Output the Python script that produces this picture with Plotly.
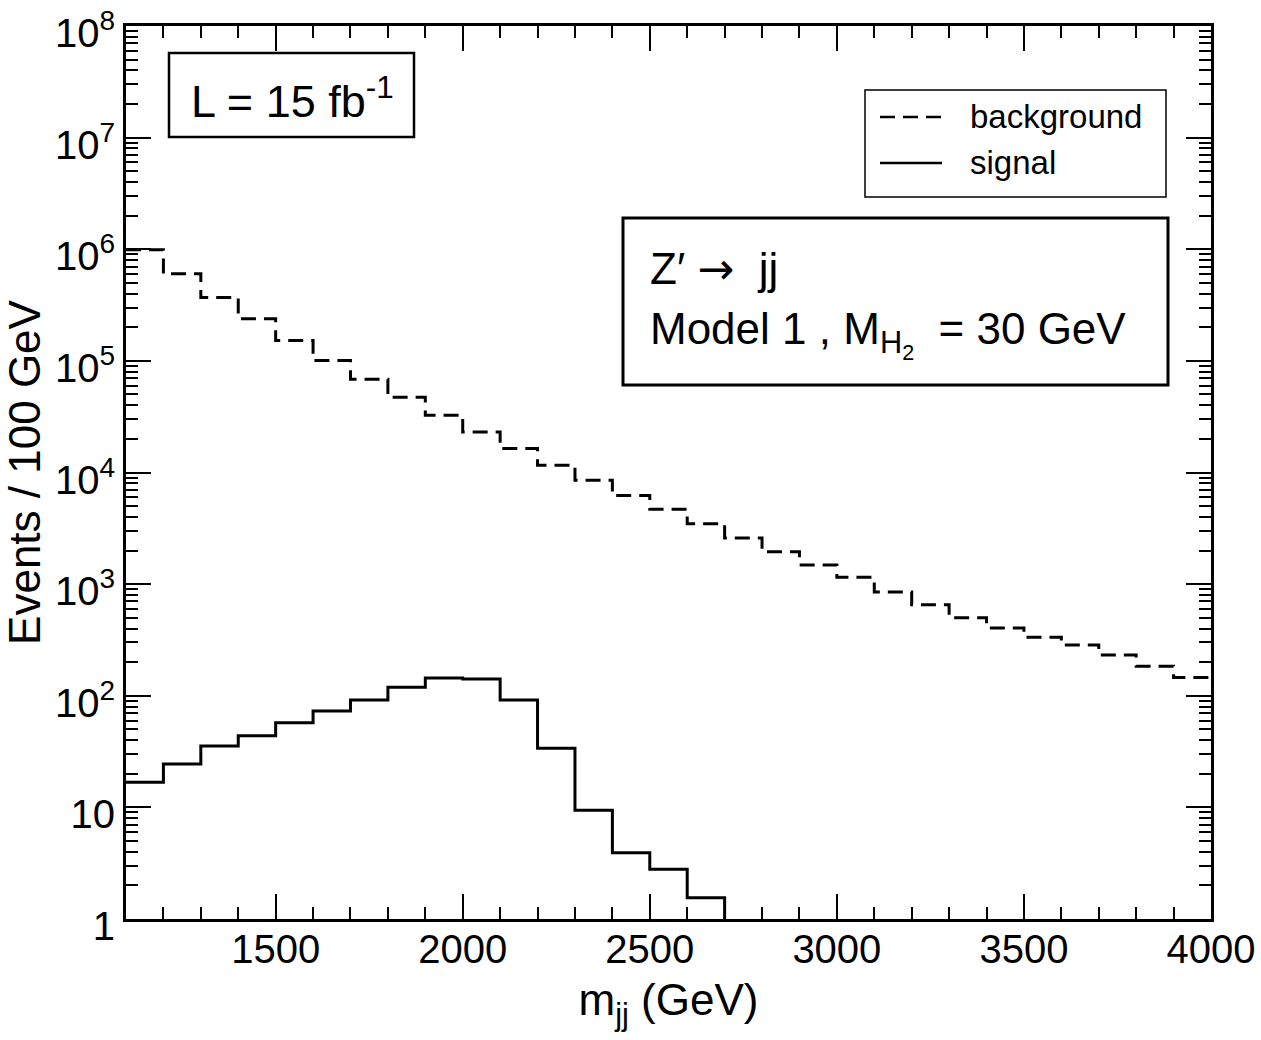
import plotly.graph_objects as go

# ---- data ----
bin_width = 100
bkg_start = 1100
background = [9.89e5, 6.03e5, 3.69e5, 2.38e5, 1.52e5, 1.01e5, 6.85e4, 4.73e4, 3.26e4,
              2.30e4, 1.64e4, 1.16e4, 8.53e3, 6.21e3, 4.69e3, 3.48e3, 2.59e3, 1.95e3,
              1.48e3, 1.15e3, 851, 652, 501, 405, 334, 285, 232, 184, 146]
sig_start = 1100
signal = [16.8, 24.5, 35.5, 43.9, 57.4, 73.1, 91.7, 119, 144, 141, 91.7, 33.9,
          9.42, 3.93, 2.79, 1.55]
y_floor = 1  # lower end of the plotted range (signal histogram drops to it)

ytick_vals = [1, 10, 1e2, 1e3, 1e4, 1e5, 1e6, 1e7, 1e8]
ytick_text = ["1", "10"] + [f"10<sup>{k}</sup>" for k in range(2, 9)]
xtick_vals = [1500, 2000, 2500, 3000, 3500, 4000]
series_names = ["background", "signal"]

# ---- step coordinates ----
bkg_x = [bkg_start + i * bin_width for i in range(len(background))] + [bkg_start + len(background) * bin_width]
bkg_y = background + [background[-1]]
sig_x = [sig_start + i * bin_width for i in range(len(signal))] + [sig_start + len(signal) * bin_width]
sig_y = signal + [y_floor]

FONT = "Liberation Sans, Arial, Helvetica, sans-serif"
DASH = "15px,8px"

fig = go.Figure()
fig.add_trace(go.Scatter(x=bkg_x, y=bkg_y, mode="lines", line_shape="hv", name=series_names[0],
                         line=dict(color="black", width=3, dash=DASH), showlegend=False))
fig.add_trace(go.Scatter(x=sig_x, y=sig_y, mode="lines", line_shape="hv", name=series_names[1],
                         line=dict(color="black", width=3), showlegend=False))

L, R, T, B = 126, 50, 26, 121
W, H = 1261, 1040
PW, PH = W - L - R, H - T - B

def px(x):
    return (x - L) / PW

def py(y):
    return (H - B - y) / PH

fig.update_layout(
    width=W, height=H,
    margin=dict(l=L, r=R, t=T, b=B, pad=0, autoexpand=False),
    paper_bgcolor="white", plot_bgcolor="white",
    font=dict(family=FONT, color="black"),
    showlegend=False,
    xaxis=dict(range=[1100, 4000], tickmode="array", tickvals=xtick_vals,
               ticks="inside", ticklen=25, tickwidth=2, tickcolor="black",
               minor=dict(dtick=100, tick0=1000, ticks="inside", ticklen=12, tickwidth=2, tickcolor="black"),
               showline=True, linecolor="black", linewidth=3, mirror="ticks",
               showgrid=False, zeroline=False, ticklabeloverflow="allow", automargin=False,
               tickfont=dict(size=40, family=FONT),
               title=dict(text="m<sub>jj</sub> (GeV)", font=dict(size=44, family=FONT), standoff=15)),
    yaxis=dict(type="log", range=[0, 8], tickmode="array", tickvals=ytick_vals, ticktext=ytick_text,
               ticks="inside", ticklen=25, tickwidth=2, tickcolor="black",
               minor=dict(dtick="D1", ticks="inside", ticklen=12, tickwidth=2, tickcolor="black"),
               showline=True, linecolor="black", linewidth=3, mirror="ticks",
               showgrid=False, zeroline=False, ticklabeloverflow="allow", automargin=False,
               tickfont=dict(size=40, family=FONT), ticklabelshift=7,
               title=dict(text="Events / 100 GeV", font=dict(size=44, family=FONT), standoff=6)),
)
try:
    fig.update_xaxes(ticklabelstandoff=-7)
except ValueError:
    pass

# Luminosity box
fig.add_shape(type="rect", xref="paper", yref="paper", x0=px(169), x1=px(414), y0=py(137), y1=py(53),
              line=dict(color="black", width=2.5), fillcolor="white", layer="above")
fig.add_annotation(xref="paper", yref="paper", x=px(189), y=py(98), xanchor="left", yanchor="middle",
                   text="L = 15 fb<sup>-1</sup>", showarrow=False, font=dict(size=45, family=FONT))

# Legend box (drawn by hand to match the reference layout)
fig.add_shape(type="rect", xref="paper", yref="paper", x0=px(865), x1=px(1166), y0=py(197), y1=py(90),
              line=dict(color="black", width=1.5), fillcolor="white", layer="above")
fig.add_shape(type="line", xref="paper", yref="paper", x0=px(880), x1=px(942), y0=py(117), y1=py(117),
              line=dict(color="black", width=2.5, dash=DASH), layer="above")
fig.add_shape(type="line", xref="paper", yref="paper", x0=px(880), x1=px(942), y0=py(163), y1=py(163),
              line=dict(color="black", width=2.5), layer="above")
fig.add_annotation(xref="paper", yref="paper", x=px(968), y=py(117), xanchor="left", yanchor="middle",
                   text=series_names[0], showarrow=False, font=dict(size=33, family=FONT))
fig.add_annotation(xref="paper", yref="paper", x=px(968), y=py(163), xanchor="left", yanchor="middle",
                   text=series_names[1], showarrow=False, font=dict(size=33, family=FONT))

# Model box
fig.add_shape(type="rect", xref="paper", yref="paper", x0=px(623), x1=px(1168), y0=py(385), y1=py(218),
              line=dict(color="black", width=3), fillcolor="white", layer="above")
fig.add_annotation(xref="paper", yref="paper", x=px(648), y=py(268), xanchor="left", yanchor="middle",
                   text="Z\u2032 <span style=\"font-family:DejaVu Sans\">\u2192</span>  jj",
                   showarrow=False, font=dict(size=44, family=FONT))
fig.add_annotation(xref="paper", yref="paper", x=px(648), y=py(335), xanchor="left", yanchor="middle",
                   text="Model 1 , M<sub>H<sub>2</sub></sub>  = 30 GeV", showarrow=False,
                   font=dict(size=44, family=FONT))

fig.write_html("out.html")
